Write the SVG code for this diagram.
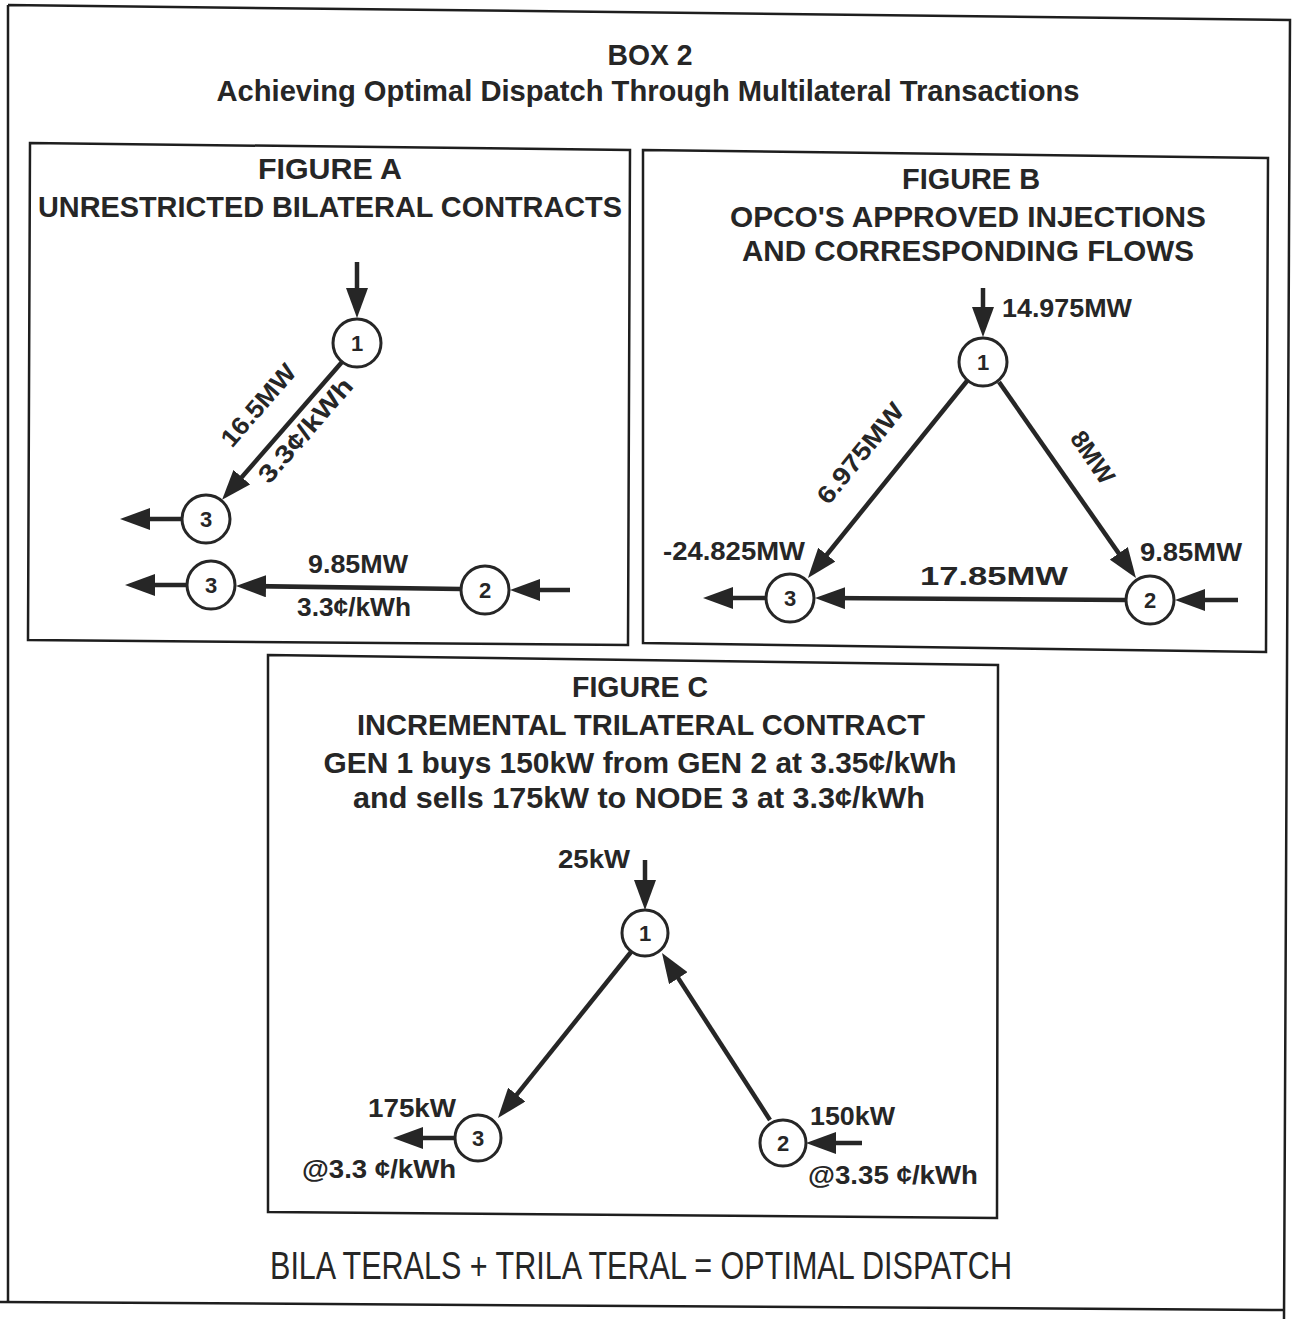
<svg xmlns="http://www.w3.org/2000/svg" width="1298" height="1319" viewBox="0 0 1298 1319">
<style>
.frame{fill:none;stroke:#1e1e1e;stroke-width:2.5}
.edge{fill:none;stroke:#262626;stroke-width:4.5}
.node{fill:#fff;stroke:#262626;stroke-width:3}
.num{font-family:"Liberation Sans",Arial,sans-serif;font-weight:bold;font-size:22px;fill:#262626;text-anchor:middle}
.t{font-family:"Liberation Sans",Arial,sans-serif;font-weight:bold;fill:#262626}
.h{font-size:30px;text-anchor:middle}
.lbl{font-size:25px}
.mid{text-anchor:middle}
.foot{font-family:"Liberation Sans Narrow","Liberation Sans",Arial,sans-serif;font-weight:normal;font-size:38px;fill:#262626;text-anchor:middle}
</style>
<defs>
<marker id="ah" viewBox="0 0 30 22" refX="21" refY="11" markerWidth="30" markerHeight="22" markerUnits="userSpaceOnUse" orient="auto">
<path d="M0,0 L30,11 L0,22 z" fill="#262626"/>
</marker>
</defs>
<rect width="1298" height="1319" fill="#fff"/>
<g id="outer-frame">
<path class="frame" d="M8,5 L1290,20 L1284,1319 M8,5 L8,1303 M0,1302 L1284,1310"/>
<text class="t h" x="650" y="65" font-size="28" textLength="85" lengthAdjust="spacingAndGlyphs">BOX 2</text>
<text class="t h" x="648" y="101" textLength="863" lengthAdjust="spacingAndGlyphs">Achieving  Optimal Dispatch Through Multilateral Transactions</text>
<text class="foot" x="641" y="1279" textLength="742" lengthAdjust="spacingAndGlyphs">BILA TERALS + TRILA TERAL = OPTIMAL DISPATCH</text>
</g>
<g id="figure-a">
<path class="frame" d="M30,143 L630,150 L628,645 L28,640 Z"/>
<text class="t h" x="330" y="179" textLength="144" lengthAdjust="spacingAndGlyphs">FIGURE  A</text>
<text class="t h" x="330" y="217" textLength="584" lengthAdjust="spacingAndGlyphs">UNRESTRICTED BILATERAL CONTRACTS</text>
</g>
<g id="figure-b">
<path class="frame" d="M643,150 L1268,158 L1266,652 L643,643 Z"/>
<text class="t h" x="971" y="189" textLength="138" lengthAdjust="spacingAndGlyphs">FIGURE B</text>
<text class="t h" x="968" y="227" textLength="476" lengthAdjust="spacingAndGlyphs">OPCO'S  APPROVED INJECTIONS</text>
<text class="t h" x="968" y="261" textLength="452" lengthAdjust="spacingAndGlyphs">AND  CORRESPONDING FLOWS</text>
</g>
<g id="figure-c">
<path class="frame" d="M268,655 L998,665 L997,1218 L268,1212 Z"/>
<text class="t h" x="640" y="697" textLength="136" lengthAdjust="spacingAndGlyphs">FIGURE C</text>
<text class="t h" x="641" y="735" textLength="568" lengthAdjust="spacingAndGlyphs">INCREMENTAL TRILATERAL CONTRACT</text>
<text class="t h" x="640" y="773" textLength="633" lengthAdjust="spacingAndGlyphs">GEN 1 buys 150kW  from GEN 2  at  3.35¢/kWh</text>
<text class="t h" x="639" y="808" textLength="572" lengthAdjust="spacingAndGlyphs">and  sells 175kW  to NODE 3  at  3.3¢/kWh</text>
</g>
<g id="connectors">
<!-- Figure A -->
<line class="edge" x1="357" y1="262" x2="357" y2="309" marker-end="url(#ah)"/>
<line class="edge" x1="342" y1="362" x2="228" y2="493" marker-end="url(#ah)"/>
<line class="edge" x1="182" y1="519" x2="129" y2="519" marker-end="url(#ah)"/>
<line class="edge" x1="461" y1="589" x2="245" y2="586" marker-end="url(#ah)"/>
<line class="edge" x1="570" y1="590" x2="519" y2="590" marker-end="url(#ah)"/>
<line class="edge" x1="187" y1="585" x2="134" y2="585" marker-end="url(#ah)"/>
<!-- Figure B -->
<line class="edge" x1="983" y1="288" x2="983" y2="328" marker-end="url(#ah)"/>
<line class="edge" x1="967" y1="381" x2="813.6" y2="571" marker-end="url(#ah)"/>
<line class="edge" x1="999" y1="382" x2="1130.8" y2="570.6" marker-end="url(#ah)"/>
<line class="edge" x1="1126" y1="600" x2="824" y2="598" marker-end="url(#ah)"/>
<line class="edge" x1="766" y1="598" x2="712" y2="598" marker-end="url(#ah)"/>
<line class="edge" x1="1238" y1="600" x2="1184" y2="600" marker-end="url(#ah)"/>
<!-- Figure C -->
<line class="edge" x1="645" y1="860" x2="645" y2="901" marker-end="url(#ah)"/>
<line class="edge" x1="631" y1="952" x2="503.6" y2="1111" marker-end="url(#ah)"/>
<line class="edge" x1="770" y1="1120" x2="666.9" y2="960.6" marker-end="url(#ah)"/>
<line class="edge" x1="455" y1="1138" x2="402" y2="1138" marker-end="url(#ah)"/>
<line class="edge" x1="862" y1="1143" x2="815" y2="1143" marker-end="url(#ah)"/>
<!-- labels -->
<text class="t lbl" x="308" y="573" textLength="100" lengthAdjust="spacingAndGlyphs">9.85MW</text>
<text class="t lbl" x="297" y="616" textLength="114" lengthAdjust="spacingAndGlyphs">3.3¢/kWh</text>
<text class="t lbl mid" transform="translate(258,405) rotate(-49)" y="9" textLength="100" lengthAdjust="spacingAndGlyphs">16.5MW</text>
<text class="t lbl mid" transform="translate(305,430) rotate(-49)" y="9" textLength="130" lengthAdjust="spacingAndGlyphs">3.3¢/kWh</text>
<text class="t lbl" x="1002" y="317" textLength="130" lengthAdjust="spacingAndGlyphs">14.975MW</text>
<text class="t lbl" x="663" y="560" textLength="142" lengthAdjust="spacingAndGlyphs">-24.825MW</text>
<text class="t lbl" x="1140" y="561" textLength="102" lengthAdjust="spacingAndGlyphs">9.85MW</text>
<text class="t lbl" x="920" y="585" textLength="148" lengthAdjust="spacingAndGlyphs">17.85MW</text>
<text class="t lbl mid" transform="translate(860,453) rotate(-51)" y="9" textLength="122" lengthAdjust="spacingAndGlyphs">6.975MW</text>
<text class="t lbl mid" transform="translate(1093,457) rotate(55.5)" y="9" textLength="58" lengthAdjust="spacingAndGlyphs">8MW</text>
<text class="t lbl" x="558" y="868" textLength="72" lengthAdjust="spacingAndGlyphs">25kW</text>
<text class="t lbl" x="368" y="1117" textLength="88" lengthAdjust="spacingAndGlyphs">175kW</text>
<text class="t lbl" x="302" y="1178" textLength="154" lengthAdjust="spacingAndGlyphs">@3.3 ¢/kWh</text>
<text class="t lbl" x="810" y="1125" textLength="85" lengthAdjust="spacingAndGlyphs">150kW</text>
<text class="t lbl" x="808" y="1184" textLength="170" lengthAdjust="spacingAndGlyphs">@3.35 ¢/kWh</text>
</g>
<g id="a-node1"><circle class="node" cx="357" cy="343" r="24"/><text class="num" x="357" y="351">1</text></g>
<g id="a-node3-top"><circle class="node" cx="206" cy="519" r="24"/><text class="num" x="206" y="527">3</text></g>
<g id="a-node3-bottom"><circle class="node" cx="211" cy="585" r="24"/><text class="num" x="211" y="593">3</text></g>
<g id="a-node2"><circle class="node" cx="485" cy="590" r="24"/><text class="num" x="485" y="598">2</text></g>
<g id="b-node1"><circle class="node" cx="983" cy="362" r="24"/><text class="num" x="983" y="370">1</text></g>
<g id="b-node2"><circle class="node" cx="1150" cy="600" r="24"/><text class="num" x="1150" y="608">2</text></g>
<g id="b-node3"><circle class="node" cx="790" cy="598" r="24"/><text class="num" x="790" y="606">3</text></g>
<g id="c-node1"><circle class="node" cx="645" cy="933" r="23"/><text class="num" x="645" y="941">1</text></g>
<g id="c-node3"><circle class="node" cx="478" cy="1138" r="23"/><text class="num" x="478" y="1146">3</text></g>
<g id="c-node2"><circle class="node" cx="783" cy="1143" r="23"/><text class="num" x="783" y="1151">2</text></g>
</svg>
